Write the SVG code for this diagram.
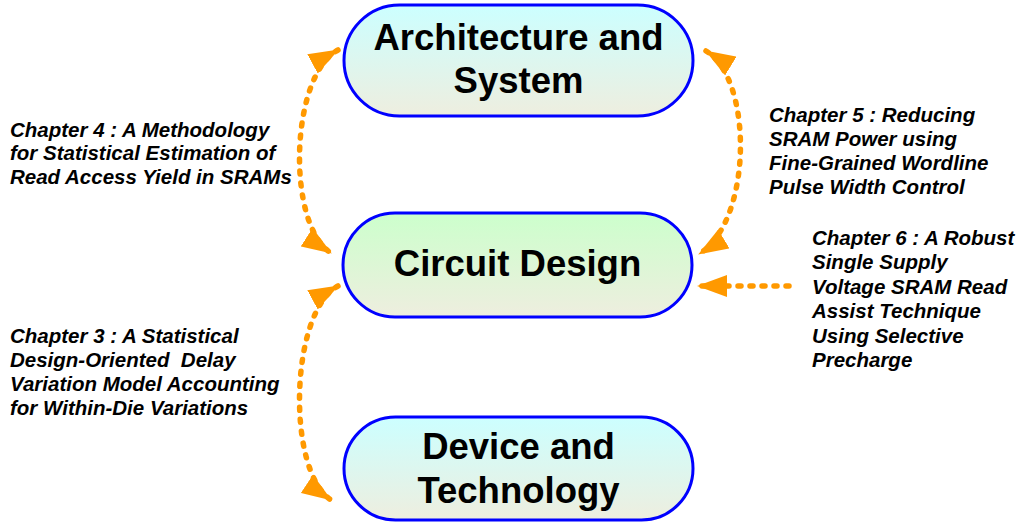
<svg xmlns="http://www.w3.org/2000/svg" width="1019" height="522" viewBox="0 0 1019 522">
  <style>
    .node { stroke: #0000ff; stroke-width: 3; }
    .title { font-family: "Liberation Sans", Arial, sans-serif; font-weight: bold; font-size: 36.5px; fill: #000; text-anchor: middle; }
    .note { font-family: "Liberation Sans", Arial, sans-serif; font-weight: bold; font-style: italic; font-size: 20.5px; fill: #000; white-space: pre; }
    .link { fill: none; stroke: #ff9900; stroke-width: 5.5; stroke-linecap: round; stroke-dasharray: 3 9; }
  </style>
  <defs>
    <linearGradient id="gradCyan" x1="0" y1="0" x2="0" y2="1">
      <stop offset="0" stop-color="#ccffff"/>
      <stop offset="1" stop-color="#eeeedf"/>
    </linearGradient>
    <linearGradient id="gradGreen" x1="0" y1="0" x2="0" y2="1">
      <stop offset="0" stop-color="#ccffcc"/>
      <stop offset="1" stop-color="#eeeedf"/>
    </linearGradient>
    <marker id="head" viewBox="0 0 30 22" refX="29" refY="11" markerWidth="30" markerHeight="22" markerUnits="userSpaceOnUse" orient="auto-start-reverse">
      <path d="M0,0 L30,11 L0,22 Z" fill="#ff9900"/>
    </marker>
  </defs>

  <!-- connectors -->
  <g id="connectors">
    <path class="link" d="M338,50 C290,76 286,224 331,253" marker-start="url(#head)" marker-end="url(#head)"/>
    <path class="link" d="M706,51 C754,80 752,222 699,254" marker-start="url(#head)" marker-end="url(#head)"/>
    <path class="link" d="M338,286 C290,312 286,470 331,500" marker-start="url(#head)" marker-end="url(#head)"/>
    <path class="link" d="M789,286 L698,286" marker-end="url(#head)"/>
  </g>

  <!-- nodes -->
  <g id="node-architecture">
    <rect class="node" x="344" y="5" width="349" height="111" rx="55.5" fill="url(#gradCyan)"/>
    <text class="title" x="518.5" y="50">Architecture and</text>
    <text class="title" x="518.5" y="93">System</text>
  </g>
  <g id="node-circuit">
    <rect class="node" x="343" y="213" width="349" height="104" rx="52" fill="url(#gradGreen)"/>
    <text class="title" x="517.5" y="276">Circuit Design</text>
  </g>
  <g id="node-device">
    <rect class="node" x="344" y="417" width="349" height="103" rx="51.5" fill="url(#gradCyan)"/>
    <text class="title" x="518.5" y="459">Device and</text>
    <text class="title" x="518.5" y="503">Technology</text>
  </g>

  <!-- chapter labels -->
  <g id="label-ch4">
    <text class="note" x="10" y="137">Chapter 4 : A Methodology</text>
    <text class="note" x="10" y="160">for Statistical Estimation of</text>
    <text class="note" x="10" y="184">Read Access Yield in SRAMs</text>
  </g>
  <g id="label-ch3">
    <text class="note" x="10" y="343">Chapter 3 : A Statistical</text>
    <text class="note" x="10" y="367">Design-Oriented  Delay</text>
    <text class="note" x="10" y="391">Variation Model Accounting</text>
    <text class="note" x="10" y="415">for Within-Die Variations</text>
  </g>
  <g id="label-ch5">
    <text class="note" x="769" y="122">Chapter 5 : Reducing</text>
    <text class="note" x="769" y="146">SRAM Power using</text>
    <text class="note" x="769" y="170">Fine-Grained Wordline</text>
    <text class="note" x="769" y="194">Pulse Width Control</text>
  </g>
  <g id="label-ch6">
    <text class="note" x="812" y="245">Chapter 6 : A Robust</text>
    <text class="note" x="812" y="269">Single Supply</text>
    <text class="note" x="812" y="294">Voltage SRAM Read</text>
    <text class="note" x="812" y="318">Assist Technique</text>
    <text class="note" x="812" y="343">Using Selective</text>
    <text class="note" x="812" y="367">Precharge</text>
  </g>
</svg>
